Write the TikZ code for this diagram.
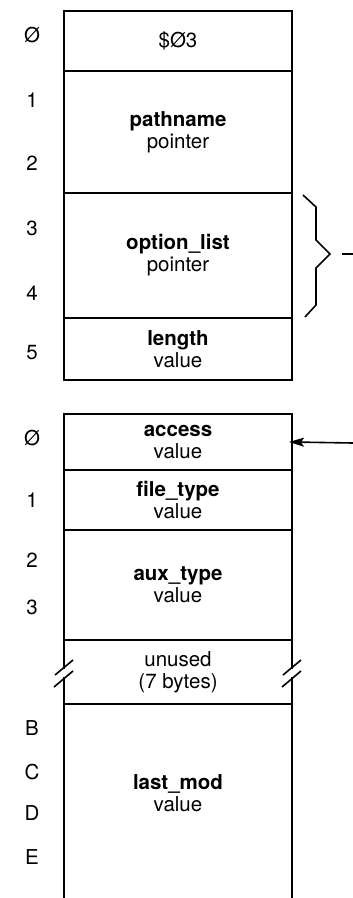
\documentclass[tikz,border=0pt]{standalone}
\usepackage{fontspec}
\setmainfont{TeX Gyre Heros}
\usetikzlibrary{arrows.meta, positioning}
\tikzset{
	field/.style={rectangle, draw, line width=1.6pt, minimum width=228pt, inner sep=0pt, outer sep=0pt, text centered, align=center, font=\fontsize{20.5}{22}\selectfont},
	frame/.style={line width=2.8pt},
	offset/.style={font=\fontsize{20.5}{22}\selectfont},
}

\begin{document}
\begin{tikzpicture}[
	x=1pt, y=1pt,
	>=Stealth,
	thinline/.style={line width=1.6pt},
	]
	\useasboundingbox (0,0) rectangle (353,-898);
	
	% --- First parameter block ---
	\node[field, minimum height=60pt] (hdr) at (178,-41) {\$Ø3};
	\node[field, minimum height=122pt, below=0pt of hdr] (path) {\textbf{pathname}\\pointer};
	\node[field, minimum height=125pt, below=0pt of path] (opt) {\textbf{option\_list}\\pointer};
	\node[field, minimum height=62pt, below=0pt of opt] (len) {\textbf{length}\\value};
	\draw[frame] (hdr.north west) rectangle (len.south east);
	
	% --- Option list block ---
	\node[field, minimum height=56pt] (acc) at (178,-442) {\textbf{access}\\value};
	\node[field, minimum height=60pt, below=0pt of acc] (ftype) {\textbf{file\_type}\\value};
	\node[field, minimum height=110pt, below=0pt of ftype] (aux) {\textbf{aux\_type}\\value};
	\node[field, minimum height=64pt, below=0pt of aux] (unused) {unused\\(7 bytes)};
	\node[field, draw=none, minimum height=194pt, below=0pt of unused] (mod) {};
	\node[offset, align=center] (modtxt) at (178,-793) {\textbf{last\_mod}\\value};
	\draw[frame] (mod.south west) -- (acc.north west) -- (acc.north east) -- (mod.south east);
	
	% --- Break marks ---
	\foreach \sx in {64,292} {
		\fill[white] (\sx-2.5,-669) rectangle (\sx+2.5,-677);
		\draw[thinline] (\sx-9,-675) -- (\sx+9,-660);
		\draw[thinline] (\sx-10,-687) -- (\sx+9,-671);
	}
	
	% --- Offsets ---
	\foreach \lbl/\y in {Ø/35, 1/100, 2/163, 3/228, 4/293, 5/353,
		Ø/438, 1/500, 2/560, 3/607, B/728, C/772, D/813, E/857} {
		\node[offset] at (32,-\y) {\lbl};
	}
	
	% --- Brace and pointer ---
	\draw[thinline] (303,-195) -- (316,-207) -- (316,-240) -- (330,-254)
		-- (316,-268) -- (316,-305) -- (305,-317);
	\coordinate (ptr) at (342,-254);
	\draw[thinline] (ptr) -- ++(11,0);
	\coordinate (accin) at (353,-443);
	\draw[thinline, -{Stealth[length=15pt, width=9pt, inset=3pt]}, shorten >=-3pt] (accin) -- (acc.east);
	
\end{tikzpicture}
\end{document}
